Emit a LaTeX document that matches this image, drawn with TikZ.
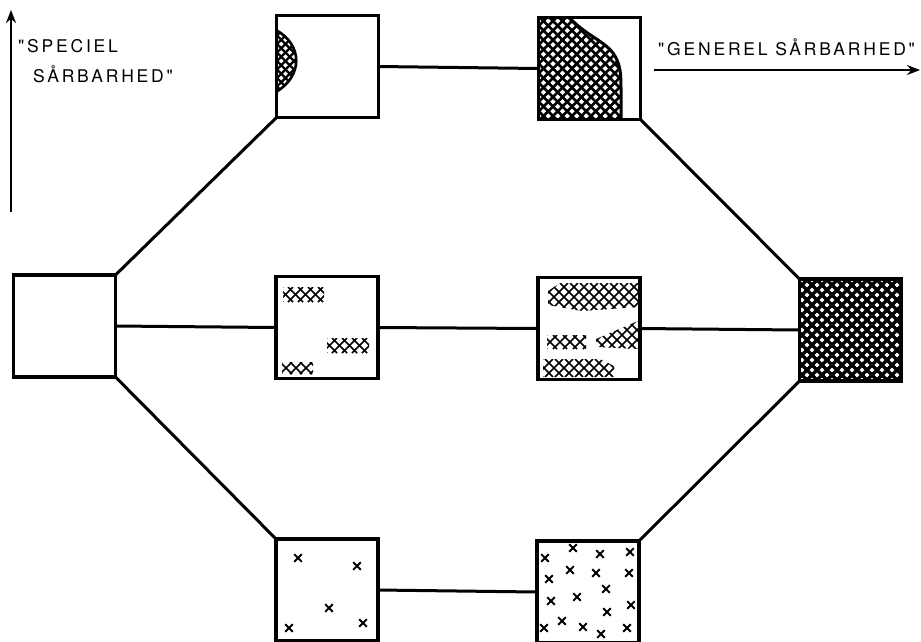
\documentclass[tikz,border=0pt]{standalone}
\usepackage{fontspec}
\setmainfont{TeX Gyre Heros}
\newfontfamily\labelfont[LetterSpace=16]{TeX Gyre Heros}
\usetikzlibrary{arrows.meta}

% cross-hatch of 45-degree lines over the rectangle (#1,#2)-(#3,#4), horizontal pitch #5
\newcommand\xhatch[5]{%
  \pgfmathsetmacro\ha{#1-#4}\pgfmathsetmacro\hb{\ha+#5}\pgfmathsetmacro\hc{#3-#2}%
  \foreach \c in {\ha,\hb,...,\hc} {\draw ({\c+#2},#2) -- ({\c+#4},#4);}%
  \pgfmathsetmacro\ha{#1+#2}\pgfmathsetmacro\hb{\ha+#5}\pgfmathsetmacro\hc{#3+#4}%
  \foreach \c in {\ha,\hb,...,\hc} {\draw ({\c-#2},#2) -- ({\c-#4},#4);}%
}

\begin{document}
\begin{tikzpicture}[x=1pt,y=-1pt,
  box/.style={draw,line width=3.6pt,minimum width=102pt,minimum height=102pt,
              inner sep=0pt,outer sep=0pt},
  link/.style={line width=3pt},
  axis/.style={line width=2.3pt,-{Stealth[length=13pt,width=10pt]}},
  xm/.style={line width=1.9pt},
  lbl/.style={inner sep=0pt,anchor=base west,font=\labelfont\fontsize{17.5}{17.5}\selectfont}]
\useasboundingbox (0,0) rectangle (921,641);

% ---- hatched areas ----
% lens on the left side of the upper first box
\begin{scope}[line width=2.2pt]
  \clip (276,30) .. controls (303,45) and (303,76) .. (276,92) -- cycle;
  \xhatch{276}{28}{302}{94}{8.5}
\end{scope}
\draw[line width=2.6pt] (276,30) .. controls (303,45) and (303,76) .. (276,92);

% large area in the upper second box
\begin{scope}[line width=2.8pt]
  \clip (538,17) -- (569,17) .. controls (585,35) and (603,40) .. (613,53)
        .. controls (621,64) and (621,76) .. (621,90) -- (621,120) -- (538,120) -- cycle;
  \xhatch{538}{17}{622}{120}{9.5}
\end{scope}
\draw[line width=3pt] (569,17) .. controls (585,35) and (603,40) .. (613,53)
        .. controls (621,64) and (621,76) .. (621,90) -- (621,120);

% fully hatched right box
\begin{scope}[line width=3.3pt]
  \clip (799,278) rectangle (902,382);
  \xhatch{799}{278}{902}{382}{10}
\end{scope}

% scattered bands in the middle row
\begin{scope}[line width=1.7pt]
  \begin{scope}\clip (283,287) -- (324,287) -- (324,302) -- (283,302) -- cycle;
    \xhatch{283}{287}{324}{302}{10}\end{scope}
  \begin{scope}\clip (327,338) -- (369,338) -- (369,353) -- (327,353) -- cycle;
    \xhatch{327}{338}{369}{353}{10}\end{scope}
  \begin{scope}\clip (282,362) -- (313,362) -- (313,374) -- (282,374) -- cycle;
    \xhatch{282}{362}{313}{374}{10}\end{scope}
  \begin{scope}\clip (548,291) -- (560,283) -- (638,283) -- (638,307) -- (582,311) -- (548,305) -- cycle;
    \xhatch{548}{283}{638}{311}{10}\end{scope}
  \begin{scope}\clip (547,335) -- (586,335) -- (586,349) -- (547,349) -- cycle;
    \xhatch{547}{335}{586}{349}{10}\end{scope}
  \begin{scope}\clip (596,339) -- (638,321) -- (638,349) -- (596,347) -- cycle;
    \xhatch{596}{321}{638}{349}{10}\end{scope}
  \begin{scope}\clip (543,359) -- (600,359) -- (614,366) -- (614,377) -- (543,377) -- cycle;
    \xhatch{543}{359}{614}{377}{10}\end{scope}
\end{scope}

% scattered crosses in the bottom row
\foreach \p in {(298,558),(357,566),(329,608),(363,623),(289,628)}
  \draw[xm] \p +(-3.8,-3.8) -- +(3.8,3.8) \p +(-3.8,3.8) -- +(3.8,-3.8);
\foreach \p in {(545,558),(573,548),(600,554),(630,552),(549,579),(570,570),
                (596,573),(629,573),(606,589),(551,601),(577,597),(607,612),
                (631,605),(562,621),(544,628),(583,627),(601,634),(627,628)}
  \draw[xm] \p +(-3.8,-3.8) -- +(3.8,3.8) \p +(-3.8,3.8) -- +(3.8,-3.8);

% ---- boxes ----
\node[box] (L)  at (64.5,326)  {};
\node[box] (A1) at (327.5,66.5) {};
\node[box] (A2) at (589.5,68.5) {};
\node[box] (B1) at (327,327.5) {};
\node[box] (B2) at (589,328.5) {};
\node[box] (R)  at (850.5,330) {};
\node[box] (C1) at (327,590) {};
\node[box] (C2) at (588,592) {};

% ---- connectors ----
\draw[link] (L.north east) -- (A1.south west);
\draw[link] (L.east) -- (B1.west);
\draw[link] (L.south east) -- (C1.north west);
\draw[link] (A1.east) -- (A2.west);
\draw[link] (B1.east) -- (B2.west);
\draw[link] (C1.east) -- (C2.west);
\draw[link] (A2.south east) -- (R.north west);
\draw[link] (B2.east) -- (R.west);
\draw[link] (C2.north east) -- (R.south west);

% ---- axes and their labels ----
\coordinate (vs) at (11,212);
\coordinate (ve) at (11,10);
\draw[axis] (vs) -- (ve);
\coordinate (hs) at (654,70);
\coordinate (he) at (920,70);
\draw[axis] (hs) -- (he);

\node[lbl] (t1) at (18,52) {"SPECIEL};
\node[lbl] (t2) at (33,82) {SÅRBARHED"};
\node[lbl] (t3) at (658,55) {"GENEREL SÅRBARHED"};
\end{tikzpicture}
\end{document}
